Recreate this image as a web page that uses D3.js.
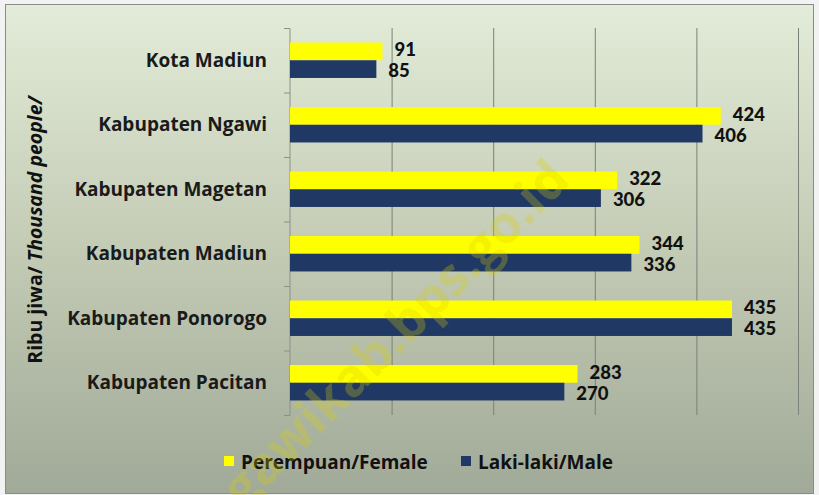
<!DOCTYPE html>
<html><head><meta charset="utf-8">
<script src="https://cdn.jsdelivr.net/npm/d3@7"></script>
<style>html,body{margin:0;padding:0;background:#f2f2f2;}svg{display:block;}</style>
</head><body>
<svg id="c" width="819" height="495"></svg>
<script>
const categories = ["Kota Madiun","Kabupaten Ngawi","Kabupaten Magetan","Kabupaten Madiun","Kabupaten Ponorogo","Kabupaten Pacitan"];
const female = [91,424,322,344,435,283];
const male = [85,406,306,336,435,270];
const seriesNames = ["Perempuan/Female","Laki-laki/Male"];
const seriesColors = ["#ffff00","#203864"];
const xTicks = [0,100,200,300,400,500];

const svg = d3.select("#c");
const FONT = "'Open Sans', 'Noto Sans', sans-serif";
const NUMFONT = "Lato, 'Open Sans', sans-serif";

const defs = svg.append("defs");
const grad = defs.append("linearGradient").attr("id","bg").attr("x1",0).attr("y1",0).attr("x2",0).attr("y2",1);
grad.append("stop").attr("offset","0%").attr("stop-color","#e3ecd8");
grad.append("stop").attr("offset","50%").attr("stop-color","#c3cbb5");
grad.append("stop").attr("offset","100%").attr("stop-color","#a1aa98");

svg.append("rect").attr("x",5.5).attr("y",4.5).attr("width",808).attr("height",489)
  .attr("fill","url(#bg)").attr("stroke","#8a8a8a").attr("stroke-width",1);

const m = {left:290, right:798, top:28, bottom:415};
const x = d3.scaleLinear().domain([0,500]).range([m.left,m.right]);
const y = d3.scaleBand().domain(categories).range([m.top,m.bottom]).paddingInner(0).paddingOuter(0);
const inner = d3.scaleBand().domain([0,1]).range([0,y.bandwidth()]).paddingInner(0).paddingOuter(0.82);

// gridlines
svg.append("g").selectAll("line").data(xTicks.slice(1)).join("line")
  .attr("x1",d=>x(d)+0.5).attr("x2",d=>x(d)+0.5).attr("y1",m.top).attr("y2",m.bottom)
  .attr("stroke","#7b8078").attr("stroke-width",1);

// y axis
const yAxis = svg.append("g").attr("transform",`translate(${m.left-0.5},0)`)
  .call(d3.axisLeft(y).tickSize(0).tickSizeOuter(0).tickFormat(""));
yAxis.select(".domain").attr("stroke","#8c9088");
svg.append("g").selectAll("line").data(d3.range(categories.length+1)).join("line")
  .attr("x1",m.left-6).attr("x2",m.left).attr("y1",i=>m.top+i*y.bandwidth()+0.5).attr("y2",i=>m.top+i*y.bandwidth()+0.5)
  .attr("stroke","#8c9088");

// category labels
svg.append("g").selectAll("text").data(categories).join("text")
  .attr("x",267).attr("y",d=>y(d)+y.bandwidth()/2).attr("dy","0.35em")
  .attr("text-anchor","end").attr("font-family",FONT).attr("font-weight","bold")
  .attr("font-size",19).attr("fill","#1a1a1a").text(d=>d);

// bars
const series = [female, male];
series.forEach((vals,si)=>{
  svg.append("g").selectAll("rect").data(vals).join("rect")
    .attr("x",x(0)).attr("y",(d,i)=>y(categories[i])+inner(si))
    .attr("width",d=>x(d)-x(0)).attr("height",inner.bandwidth())
    .attr("fill",seriesColors[si]);
  svg.append("g").selectAll("text").data(vals).join("text")
    .attr("x",d=>x(d)+12).attr("y",(d,i)=>y(categories[i])+inner(si)+inner.bandwidth()/2 + (si===0?-1.5:1.5))
    .attr("dy","0.35em").attr("font-family",NUMFONT).attr("font-weight","900")
    .attr("font-size",18.5).attr("fill","#111").text(d=>d);
});

// y title
const yt = svg.append("text").attr("transform","translate(42,230) rotate(-90)")
  .attr("text-anchor","middle").attr("font-family",FONT).attr("font-weight","bold")
  .attr("font-size",19.5).attr("fill","#111");
yt.append("tspan").text("Ribu jiwa/ ");
yt.append("tspan").attr("font-style","italic").text("Thousand people/");

// legend
const legX = [224,461];
seriesNames.forEach((n,i)=>{
  svg.append("rect").attr("x",legX[i]).attr("y",456).attr("width",10).attr("height",10).attr("fill",seriesColors[i]);
  svg.append("text").attr("x",legX[i]+17).attr("y",462).attr("dy","0.35em")
    .attr("font-family",FONT).attr("font-weight","bold").attr("font-size",19).attr("fill","#111").text(n);
});

// watermark
svg.append("text").attr("transform","translate(572,182) rotate(-45)")
  .attr("text-anchor","end").attr("font-family","'Open Sans', sans-serif").attr("font-weight","bold")
  .attr("font-size",52).attr("fill","#d8d000").attr("fill-opacity",0.28).text("ngawikab.bps.go.id");
</script>
</body></html>
